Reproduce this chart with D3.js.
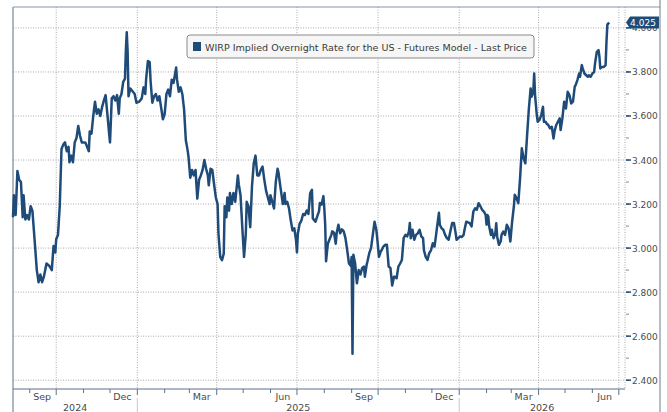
<!DOCTYPE html>
<html>
<head>
<meta charset="utf-8">
<script src="https://cdn.jsdelivr.net/npm/d3@7"></script>
<style>
  body { margin: 0; background: #fff; }
  svg { display: block; font-family: "DejaVu Sans", Tahoma, sans-serif; }
</style>
</head>
<body>
<svg id="chart" width="667" height="412"></svg>
<script>
"use strict";

// WIRP implied overnight rate
const rates2024 = [
  ["2024-08-13", 3.14], ["2024-08-14", 3.24], ["2024-08-16", 3.15], ["2024-08-18", 3.35],
  ["2024-08-20", 3.31], ["2024-08-22", 3.30], ["2024-08-24", 3.14], ["2024-08-25", 3.24],
  ["2024-08-27", 3.13], ["2024-08-29", 3.15], ["2024-08-31", 3.13], ["2024-09-02", 3.19],
  ["2024-09-04", 3.17], ["2024-09-07", 3.01], ["2024-09-09", 2.90], ["2024-09-11", 2.845],
  ["2024-09-13", 2.88], ["2024-09-15", 2.845], ["2024-09-17", 2.87], ["2024-09-20", 2.93],
  ["2024-09-23", 2.92], ["2024-09-26", 2.90], ["2024-09-28", 3.01], ["2024-09-30", 2.98],
  ["2024-10-01", 3.04], ["2024-10-03", 3.06], ["2024-10-05", 3.19], ["2024-10-07", 3.45],
  ["2024-10-09", 3.47], ["2024-10-11", 3.48], ["2024-10-13", 3.44], ["2024-10-15", 3.46],
  ["2024-10-16", 3.39], ["2024-10-18", 3.42], ["2024-10-20", 3.39], ["2024-10-22", 3.48],
  ["2024-10-24", 3.50], ["2024-10-26", 3.555], ["2024-10-28", 3.51], ["2024-10-30", 3.48],
  ["2024-11-03", 3.48], ["2024-11-05", 3.46], ["2024-11-07", 3.44], ["2024-11-08", 3.53],
  ["2024-11-10", 3.52], ["2024-11-12", 3.60], ["2024-11-14", 3.665], ["2024-11-16", 3.61],
  ["2024-11-18", 3.63], ["2024-11-20", 3.60], ["2024-11-22", 3.64], ["2024-11-24", 3.67],
  ["2024-11-26", 3.695], ["2024-11-28", 3.61], ["2024-11-30", 3.52], ["2024-12-01", 3.48],
  ["2024-12-03", 3.68], ["2024-12-05", 3.69], ["2024-12-07", 3.67], ["2024-12-09", 3.695],
  ["2024-12-11", 3.61], ["2024-12-12", 3.68], ["2024-12-14", 3.70], ["2024-12-16", 3.755],
  ["2024-12-18", 3.77], ["2024-12-19", 3.90], ["2024-12-20", 3.98], ["2024-12-21", 3.89],
  ["2024-12-22", 3.69], ["2024-12-24", 3.725], ["2024-12-27", 3.71], ["2024-12-29", 3.70],
  ["2024-12-31", 3.66]
];

const rates2025 = [
  ["2025-01-03", 3.665], ["2025-01-06", 3.68], ["2025-01-08", 3.73], ["2025-01-10", 3.70],
  ["2025-01-11", 3.77], ["2025-01-13", 3.85], ["2025-01-15", 3.845], ["2025-01-16", 3.76],
  ["2025-01-18", 3.66], ["2025-01-20", 3.69], ["2025-01-22", 3.70], ["2025-01-24", 3.67],
  ["2025-01-26", 3.69], ["2025-01-30", 3.585], ["2025-02-01", 3.61], ["2025-02-03", 3.70],
  ["2025-02-05", 3.72], ["2025-02-07", 3.69], ["2025-02-09", 3.765], ["2025-02-11", 3.75],
  ["2025-02-13", 3.795], ["2025-02-14", 3.82], ["2025-02-15", 3.765], ["2025-02-17", 3.71],
  ["2025-02-19", 3.73], ["2025-02-21", 3.70], ["2025-02-23", 3.63], ["2025-02-25", 3.49],
  ["2025-02-27", 3.445], ["2025-02-28", 3.415], ["2025-03-02", 3.32], ["2025-03-04", 3.355],
  ["2025-03-06", 3.33], ["2025-03-08", 3.355], ["2025-03-10", 3.225], ["2025-03-12", 3.31],
  ["2025-03-14", 3.33], ["2025-03-16", 3.355], ["2025-03-18", 3.40], ["2025-03-20", 3.36],
  ["2025-03-22", 3.33], ["2025-03-23", 3.285], ["2025-03-25", 3.36], ["2025-03-27", 3.355],
  ["2025-03-29", 3.29], ["2025-03-31", 3.23], ["2025-04-02", 3.20], ["2025-04-03", 3.065],
  ["2025-04-05", 2.96], ["2025-04-07", 2.945], ["2025-04-09", 2.975], ["2025-04-10", 3.19],
  ["2025-04-12", 3.14], ["2025-04-13", 3.23], ["2025-04-15", 3.17], ["2025-04-16", 3.25],
  ["2025-04-18", 3.20], ["2025-04-20", 3.25], ["2025-04-22", 3.21], ["2025-04-25", 3.33],
  ["2025-04-26", 3.29], ["2025-04-28", 3.24], ["2025-04-30", 3.095], ["2025-05-02", 2.96],
  ["2025-05-04", 3.065], ["2025-05-05", 3.21], ["2025-05-07", 3.19], ["2025-05-09", 3.095],
  ["2025-05-11", 3.28], ["2025-05-13", 3.385], ["2025-05-15", 3.42], ["2025-05-17", 3.33],
  ["2025-05-19", 3.33], ["2025-05-21", 3.355], ["2025-05-23", 3.37], ["2025-05-25", 3.31],
  ["2025-05-27", 3.26], ["2025-05-29", 3.23], ["2025-05-31", 3.20], ["2025-06-01", 3.24],
  ["2025-06-03", 3.21], ["2025-06-05", 3.18], ["2025-06-07", 3.30], ["2025-06-09", 3.36],
  ["2025-06-10", 3.345], ["2025-06-12", 3.285], ["2025-06-15", 3.20], ["2025-06-17", 3.25],
  ["2025-06-18", 3.20], ["2025-06-20", 3.21], ["2025-06-22", 3.18], ["2025-06-24", 3.125],
  ["2025-06-26", 3.08], ["2025-06-28", 3.09], ["2025-06-30", 3.035], ["2025-07-01", 2.98],
  ["2025-07-02", 3.065], ["2025-07-04", 3.11], ["2025-07-06", 3.125], ["2025-07-08", 3.155],
  ["2025-07-10", 3.15], ["2025-07-12", 3.17], ["2025-07-14", 3.155], ["2025-07-16", 3.25],
  ["2025-07-18", 3.265], ["2025-07-19", 3.135], ["2025-07-22", 3.12], ["2025-07-24", 3.144],
  ["2025-07-26", 3.167], ["2025-07-27", 3.205], ["2025-07-29", 3.198], ["2025-07-31", 3.236],
  ["2025-08-01", 3.18], ["2025-08-02", 3.11], ["2025-08-03", 2.94], ["2025-08-05", 3.02],
  ["2025-08-07", 3.04], ["2025-08-09", 3.06], ["2025-08-10", 3.076], ["2025-08-12", 3.07],
  ["2025-08-14", 3.02], ["2025-08-15", 3.067], ["2025-08-17", 3.106], ["2025-08-19", 3.067],
  ["2025-08-21", 3.085], ["2025-08-23", 3.076], ["2025-08-25", 3.045], ["2025-08-27", 2.99],
  ["2025-08-29", 2.93], ["2025-08-31", 2.92], ["2025-09-01", 2.96], ["2025-09-02", 2.52],
  ["2025-09-03", 2.97], ["2025-09-05", 2.93], ["2025-09-07", 2.84], ["2025-09-09", 2.90],
  ["2025-09-11", 2.88], ["2025-09-13", 2.91], ["2025-09-15", 2.916], ["2025-09-16", 2.87],
  ["2025-09-18", 2.924], ["2025-09-19", 2.94], ["2025-09-21", 2.977], ["2025-09-23", 3.0],
  ["2025-09-25", 3.06], ["2025-09-27", 3.12], ["2025-09-29", 3.083], ["2025-09-30", 3.045],
  ["2025-10-02", 2.96], ["2025-10-04", 2.985], ["2025-10-05", 2.99], ["2025-10-07", 3.007],
  ["2025-10-09", 3.015], ["2025-10-11", 3.015], ["2025-10-13", 2.916], ["2025-10-15", 2.91],
  ["2025-10-17", 2.83], ["2025-10-19", 2.87], ["2025-10-20", 2.87], ["2025-10-22", 2.863],
  ["2025-10-24", 2.916], ["2025-10-26", 2.93], ["2025-10-28", 2.946], ["2025-10-30", 3.045],
  ["2025-11-01", 3.06], ["2025-11-03", 3.053], ["2025-11-05", 3.076], ["2025-11-06", 3.114],
  ["2025-11-07", 3.045], ["2025-11-09", 3.083], ["2025-11-11", 3.038], ["2025-11-13", 3.06],
  ["2025-11-15", 3.067], ["2025-11-17", 3.083], ["2025-11-19", 3.053], ["2025-11-21", 3.045],
  ["2025-11-22", 2.99], ["2025-11-24", 2.96], ["2025-11-26", 2.946], ["2025-11-28", 2.977],
  ["2025-11-30", 2.99], ["2025-12-02", 3.022], ["2025-12-04", 3.007], ["2025-12-06", 3.067],
  ["2025-12-07", 3.10], ["2025-12-09", 3.16], ["2025-12-10", 3.106], ["2025-12-12", 3.09],
  ["2025-12-14", 3.083], ["2025-12-16", 3.06], ["2025-12-18", 3.045], ["2025-12-20", 3.038],
  ["2025-12-22", 3.076], ["2025-12-24", 3.114], ["2025-12-26", 3.114], ["2025-12-28", 3.067],
  ["2025-12-29", 3.038], ["2025-12-31", 3.045]
];

const rates2026 = [
  ["2026-01-02", 3.053], ["2026-01-04", 3.05], ["2026-01-06", 3.06], ["2026-01-07", 3.083],
  ["2026-01-09", 3.12], ["2026-01-13", 3.113], ["2026-01-15", 3.098], ["2026-01-17", 3.166],
  ["2026-01-19", 3.181], ["2026-01-21", 3.174], ["2026-01-23", 3.204], ["2026-01-25", 3.19],
  ["2026-01-27", 3.174], ["2026-01-29", 3.166], ["2026-01-31", 3.15], ["2026-02-01", 3.106],
  ["2026-02-02", 3.15], ["2026-02-03", 3.143], ["2026-02-04", 3.098], ["2026-02-06", 3.06],
  ["2026-02-07", 3.083], ["2026-02-09", 3.045], ["2026-02-11", 3.068], ["2026-02-12", 3.113],
  ["2026-02-13", 3.053], ["2026-02-15", 3.015], ["2026-02-17", 3.03], ["2026-02-18", 3.06],
  ["2026-02-20", 3.075], ["2026-02-22", 3.06], ["2026-02-24", 3.106], ["2026-02-26", 3.09],
  ["2026-02-28", 3.03], ["2026-03-02", 3.12], ["2026-03-04", 3.19], ["2026-03-05", 3.242],
  ["2026-03-07", 3.227], ["2026-03-09", 3.204], ["2026-03-11", 3.317], ["2026-03-13", 3.453],
  ["2026-03-15", 3.408], ["2026-03-17", 3.385], ["2026-03-19", 3.514], ["2026-03-21", 3.634],
  ["2026-03-23", 3.725], ["2026-03-24", 3.687], ["2026-03-26", 3.71], ["2026-03-27", 3.793],
  ["2026-03-28", 3.695], ["2026-03-30", 3.604], ["2026-03-31", 3.574], ["2026-04-02", 3.582],
  ["2026-04-04", 3.604], ["2026-04-06", 3.642], ["2026-04-07", 3.574], ["2026-04-09", 3.574],
  ["2026-04-10", 3.566], ["2026-04-12", 3.559], ["2026-04-14", 3.544], ["2026-04-16", 3.551],
  ["2026-04-18", 3.498], ["2026-04-19", 3.529], ["2026-04-21", 3.559], ["2026-04-23", 3.574],
  ["2026-04-25", 3.589], ["2026-04-26", 3.536], ["2026-04-28", 3.589], ["2026-04-30", 3.665],
  ["2026-05-02", 3.634], ["2026-05-04", 3.71], ["2026-05-06", 3.695], ["2026-05-08", 3.657],
  ["2026-05-10", 3.665], ["2026-05-12", 3.733], ["2026-05-13", 3.74], ["2026-05-15", 3.763],
  ["2026-05-17", 3.793], ["2026-05-18", 3.778], ["2026-05-20", 3.831], ["2026-05-21", 3.816],
  ["2026-05-23", 3.793], ["2026-05-25", 3.785], ["2026-05-27", 3.778], ["2026-05-28", 3.785],
  ["2026-05-30", 3.778], ["2026-06-01", 3.793], ["2026-06-03", 3.80], ["2026-06-04", 3.838],
  ["2026-06-06", 3.891], ["2026-06-08", 3.899], ["2026-06-09", 3.869], ["2026-06-10", 3.816],
  ["2026-06-12", 3.823], ["2026-06-14", 3.823], ["2026-06-16", 3.831], ["2026-06-17", 3.937],
  ["2026-06-18", 4.015], ["2026-06-20", 4.025]
];

const yTicks = [2.4, 2.6, 2.8, 3.0, 3.2, 3.4, 3.6, 3.8, 4.0];
const monthLabels = [["2024-09-15", "Sep"], ["2024-12-15", "Dec"], ["2025-03-15", "Mar"], ["2025-06-15", "Jun"],
                     ["2025-09-15", "Sep"], ["2025-12-15", "Dec"], ["2026-03-15", "Mar"], ["2026-06-15", "Jun"]];
const years = ["2024", "2025", "2026"];
const legendText = "WIRP Implied Overnight Rate for the US - Futures Model - Last Price";
const lastLabel = "4.025";

const parse = d3.utcParse("%Y-%m-%d");
const data = rates2024.concat(rates2025, rates2026).map(([d, v]) => ({date: parse(d), value: v}));

// layout
const plot = {left: 13, right: 625, top: 7, bottom: 389};
const navy = "#1f4b78";
const grid = "#a9a9a9";

const x = d3.scaleUtc()
  .domain([parse("2024-08-13"), parse("2026-07-08")])
  .range([plot.left, plot.right]);

const y = d3.scaleLinear()
  .domain([2.36, 4.095])
  .range([plot.bottom, plot.top]);

const svg = d3.select("#chart");

// gridlines
svg.append("g")
  .selectAll("line")
  .data(yTicks)
  .join("line")
    .attr("x1", plot.left).attr("x2", plot.right)
    .attr("y1", d => y(d)).attr("y2", d => y(d))
    .attr("stroke", grid).attr("stroke-dasharray", "1,1.5");

const quarters = d3.utcMonth.every(3).range(x.domain()[0], x.domain()[1]);
svg.append("g")
  .selectAll("line")
  .data(quarters)
  .join("line")
    .attr("x1", d => x(d)).attr("x2", d => x(d))
    .attr("y1", plot.top).attr("y2", plot.bottom)
    .attr("stroke", grid).attr("stroke-dasharray", "1,1.5");

// right edge of plot
svg.append("line")
  .attr("x1", plot.right).attr("x2", plot.right)
  .attr("y1", plot.top).attr("y2", plot.bottom)
  .attr("stroke", grid).attr("stroke-dasharray", "1,1.5");

// frame
svg.append("line")
  .attr("x1", plot.left).attr("x2", plot.left).attr("y1", plot.top).attr("y2", 412)
  .attr("stroke", "#5d7189");
svg.append("line")
  .attr("x1", plot.left).attr("x2", 660).attr("y1", plot.top).attr("y2", plot.top)
  .attr("stroke", "#8795a5");
svg.append("line")
  .attr("x1", 660).attr("x2", 660).attr("y1", 0).attr("y2", 412)
  .attr("stroke", "#6f7a86");

// x axis
svg.append("line")
  .attr("x1", plot.left).attr("x2", plot.right).attr("y1", plot.bottom).attr("y2", plot.bottom)
  .attr("stroke", "#5d7189");

const months = d3.utcMonth.range(x.domain()[0], x.domain()[1]);
svg.append("g")
  .selectAll("line")
  .data(months)
  .join("line")
    .attr("x1", d => x(d)).attr("x2", d => x(d))
    .attr("y1", plot.bottom)
    .attr("y2", d => plot.bottom + (d.getUTCMonth() % 3 === 0 ? 6 : 4))
    .attr("stroke", "#5d7189");

svg.append("g")
  .selectAll("text")
  .data(monthLabels)
  .join("text")
    .attr("x", d => x(parse(d[0])))
    .attr("y", 400)
    .attr("text-anchor", "middle")
    .attr("font-size", 9.5)
    .attr("fill", "#4a4a4a")
    .text(d => d[1]);

// year separators and labels
const yearStarts = d3.utcYear.range(x.domain()[0], x.domain()[1]);
svg.append("g")
  .selectAll("line")
  .data(yearStarts)
  .join("line")
    .attr("x1", d => x(d)).attr("x2", d => x(d))
    .attr("y1", plot.bottom + 9).attr("y2", 412)
    .attr("stroke", "#c8c8c8");

svg.append("g")
  .selectAll("text")
  .data(years)
  .join("text")
    .attr("x", yr => {
      const a = d3.max([parse(yr + "-01-01"), x.domain()[0]]);
      const b = d3.min([parse((+yr + 1) + "-01-01"), x.domain()[1]]);
      return (x(a) + x(b)) / 2;
    })
    .attr("y", 411)
    .attr("text-anchor", "middle")
    .attr("font-size", 9.5)
    .attr("fill", "#4a4a4a")
    .text(d => d);

// right y axis
const minorTicks = d3.range(2.4, 4.05, 0.1);
svg.append("g")
  .selectAll("line")
  .data(minorTicks)
  .join("line")
    .attr("x1", plot.right + 1).attr("x2", plot.right + 4)
    .attr("y1", d => y(d)).attr("y2", d => y(d))
    .attr("stroke", "#7d8b9a");

svg.append("g")
  .selectAll("line")
  .data(yTicks)
  .join("line")
    .attr("x1", plot.right + 1).attr("x2", plot.right + 6)
    .attr("y1", d => y(d)).attr("y2", d => y(d))
    .attr("stroke", navy).attr("stroke-width", 1.5);

// the 4.000 label sits under the last price tag, as in the source
svg.append("g")
  .selectAll("text")
  .data(yTicks)
  .join("text")
    .attr("x", plot.right + 7)
    .attr("y", d => y(d) + 3.5)
    .attr("font-size", 9)
    .attr("fill", "#4a4a4a")
    .text(d => d3.format(".3f")(d));

// series line
const line = d3.line()
  .x(d => x(d.date))
  .y(d => y(d.value));

svg.append("path")
  .datum(data)
  .attr("fill", "none")
  .attr("stroke", navy)
  .attr("stroke-width", 2.5)
  .attr("stroke-linejoin", "round")
  .attr("d", line);

// last price tag
const last = data[data.length - 1];
const ty = y(last.value);
svg.append("path")
  .attr("d", `M${plot.right + 1},${ty} L${plot.right + 5},${ty - 6} H659 V${ty + 6} H${plot.right + 5} Z`)
  .attr("fill", navy);
svg.append("text")
  .attr("x", 643)
  .attr("y", ty + 3.5)
  .attr("text-anchor", "middle")
  .attr("font-size", 9)
  .attr("fill", "#fff")
  .text(lastLabel);

// legend
const legend = svg.append("g").attr("transform", "translate(187,35)");
legend.append("rect")
  .attr("width", 347).attr("height", 23).attr("rx", 3)
  .attr("fill", "#f6f6f6").attr("stroke", "#8a8a8a");
legend.append("rect")
  .attr("x", 6).attr("y", 7).attr("width", 8).attr("height", 9)
  .attr("fill", navy);
legend.append("text")
  .attr("x", 18).attr("y", 15.5)
  .attr("font-size", 9.5)
  .attr("fill", "#3a3a3a")
  .attr("textLength", 322)
  .attr("lengthAdjust", "spacingAndGlyphs")
  .text(legendText);
</script>
</body>
</html>
